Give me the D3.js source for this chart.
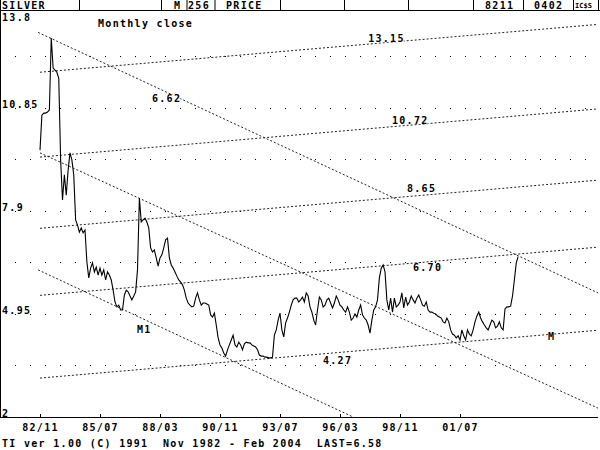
<!DOCTYPE html>
<html><head><meta charset="utf-8">
<script src="https://cdn.jsdelivr.net/npm/d3@7"></script>
<style>
html,body{margin:0;padding:0;background:#fff;}
svg{display:block;}
text{font-family:"DejaVu Sans Mono",monospace;font-weight:bold;font-size:10px;letter-spacing:1.3px;fill:#000;white-space:pre;}
</style></head><body>
<svg id="c" width="600" height="450"></svg>
<script>
// ---------------- DATA ----------------
// Monthly close of silver, Nov 1982 .. Feb 2004 (256 months)
const prices = [
 9.63,10.63,10.69,10.69,10.72,10.78,12.84,11.98,11.92,11.86,
 11.69,9.35,8.20,8.92,8.34,9.06,9.55,9.35,8.92,7.63,
 7.48,7.28,7.40,7.26,7.34,6.43,5.97,6.25,6.40,6.14,
 6.28,6.05,6.25,6.05,6.20,5.91,6.14,6.05,5.91,5.62,
 5.28,5.14,5.19,5.05,5.05,5.48,5.62,5.57,5.45,5.34,
 5.45,5.57,6.20,8.26,7.57,7.63,7.68,7.57,7.40,6.83,
 6.71,6.77,6.54,6.31,6.54,6.63,6.83,7.06,7.11,6.54,
 6.34,6.25,6.14,6.02,5.91,5.85,5.77,5.62,5.39,5.25,
 5.19,5.14,5.16,5.39,5.54,5.34,5.19,5.25,5.25,5.22,
 5.19,4.91,4.85,4.96,4.62,4.25,4.05,3.96,3.82,3.73,
 3.91,4.05,4.19,4.33,4.05,3.99,4.13,4.05,3.91,4.08,
 4.13,4.11,4.11,4.05,4.02,3.99,3.91,3.76,3.73,3.73,
 3.70,3.70,3.68,3.68,3.70,4.33,4.48,4.76,4.96,4.48,
 4.28,4.68,4.82,4.99,5.19,5.34,5.39,5.39,5.28,5.34,
 5.42,5.28,5.54,5.45,5.14,4.99,4.76,4.62,5.05,5.42,
 5.34,5.14,5.19,5.34,5.39,5.25,5.11,5.25,5.45,5.34,
 5.19,5.14,5.05,4.99,5.14,4.99,4.76,4.82,4.94,4.85,
 5.05,5.19,4.91,4.82,4.76,4.62,4.39,4.76,5.05,5.14,
 5.34,5.97,6.25,6.34,6.14,5.34,5.05,5.39,4.99,5.39,
 5.14,5.19,5.28,5.54,5.11,5.42,5.19,5.28,5.45,5.34,
 5.25,5.39,5.48,5.34,5.19,5.16,5.28,5.05,4.99,4.99,
 4.96,4.94,4.88,4.85,4.82,4.71,4.68,4.82,4.71,4.48,
 4.36,4.33,4.25,4.31,4.19,4.48,4.31,4.19,4.48,4.36,
 4.31,4.48,4.71,4.88,4.99,4.82,4.71,4.62,4.54,4.48,
 4.62,4.76,4.71,4.54,4.59,4.71,4.54,4.48,5.08,5.14,
 5.14,5.16,5.45,5.91,6.40,6.58
];
const xTickIdx = [0,32,64,96,128,160,192,224];
const xTickLabels = ["82/11","85/07","88/03","90/11","93/07","96/03","98/11","01/07"];
const yTickVals = [13.8,10.85,7.9,4.95,2];
const yGridVals = [12.325,10.85,9.375,7.9,6.425,4.95,3.475];
// trend lines: month index / price at both ends
const trendLines = [
 {i0:0, v0:11.86, i1:297.6, v1:13.23},
 {i0:0, v0:9.43,  i1:297.6, v1:10.81},
 {i0:0, v0:7.39,  i1:297.6, v1:8.77},
 {i0:0, v0:5.47,  i1:297.6, v1:6.85},
 {i0:0, v0:3.10,  i1:297.6, v1:4.47},
 {i0:-1, v0:13.00, i1:297.6, v1:5.54},
 {i0:0, v0:9.55,  i1:297.6, v1:2.24},
 {i0:-1, v0:6.20, i1:166.4, v1:2.0}
];
// annotation texts, anchored at (month index, price)
const lineLabels = [
 {t:"13.15", i:175, v:12.72},
 {t:"10.72", i:187.7, v:10.38},
 {t:"8.65",  i:195.7, v:8.43},
 {t:"6.70",  i:198.9, v:6.17},
 {t:"4.27",  i:150.9, v:3.50},
 {t:"6.62",  i:59.7, v:11.01},
 {t:"M1",    i:51.7, v:4.39},
 {t:"M",     i:270.9, v:4.19}
];
const headerCells = [
 {t:"SILVER", x:2}, {t:"M", x:174}, {t:"256", x:188}, {t:"PRICE", x:226},
 {t:"8211", x:485}, {t:"0402", x:534}
];
const headerDividers = [79,161,186.5,214.5,280,344,408,473,523,573,598];
const title = "Monthly close";
const footer = "TI ver 1.00 (C) 1991  Nov 1982 - Feb 2004  LAST=6.58";

(function(){
const svg = d3.select("#c");
const pL = 0, pR = 598, pT = 10, pB = 417;
const x = d3.scaleLinear().domain([0,255]).range([40, 40+255*1.875]);
const y = d3.scaleLinear().domain([2,13.8]).range([416.5, 4.5]);

svg.append("defs").append("clipPath").attr("id","pc")
  .append("rect").attr("x",pL).attr("y",pT).attr("width",pR-pL).attr("height",pB-pT);

// header
const hdr = svg.append("g");
hdr.selectAll("line").data(headerDividers).join("line")
  .attr("x1",d=>d+0.5).attr("x2",d=>d+0.5).attr("y1",0).attr("y2",10)
  .attr("stroke","#000").attr("stroke-width",1);
hdr.selectAll("text").data(headerCells).join("text")
  .attr("x",d=>d.x).attr("y",9).text(d=>d.t);
hdr.append("text").attr("x",575).attr("y",8).style("font-size","7px").style("letter-spacing","0px").text("IC$S");

// frame
svg.append("line").attr("x1",0).attr("x2",600).attr("y1",pT+0.5).attr("y2",pT+0.5).attr("stroke","#000");
svg.append("line").attr("x1",0.5).attr("x2",0.5).attr("y1",0).attr("y2",pB).attr("stroke","#000");
svg.append("line").attr("x1",0).attr("x2",pR).attr("y1",pB+0.5).attr("y2",pB+0.5).attr("stroke","#000");

// grid dots
const gridX = d3.range(-40/3, 296, 8);
const gdots = [];
yGridVals.forEach(v=>gridX.forEach(i=>gdots.push({i,v})));
svg.append("g").selectAll("rect").data(gdots).join("rect")
  .attr("x",d=>Math.round(x(d.i))).attr("y",d=>Math.round(y(d.v)))
  .attr("width",1).attr("height",1).attr("fill","#000");

// trend lines
svg.append("g").attr("clip-path","url(#pc)").selectAll("line").data(trendLines).join("line")
  .attr("x1",d=>x(d.i0)).attr("y1",d=>y(d.v0)).attr("x2",d=>x(d.i1)).attr("y2",d=>y(d.v1))
  .attr("stroke","#222").attr("stroke-width",1).attr("stroke-dasharray","2,2");

// price line
svg.append("path").datum(prices)
  .attr("fill","none").attr("stroke","#000").attr("stroke-width",1.1)
  .attr("d", d3.line().x((d,i)=>x(i)).y(d=>y(d)));

// line labels
const lg = svg.append("g");
lineLabels.forEach(d=>{
  const t = lg.append("text").attr("x",x(d.i)).attr("y",y(d.v)).text(d.t);
  const b = t.node().getBBox();
  lg.insert("rect","text").attr("x",b.x).attr("y",b.y+2).attr("width",b.width-1).attr("height",b.height-4).attr("fill","#fff");
});

// y axis labels
const ya = svg.append("g").call(d3.axisRight(y).tickValues(yTickVals).tickSize(0).tickFormat(d=>String(d)));
ya.select(".domain").remove();
ya.attr("font-family",null).attr("font-size",null);
ya.selectAll("text").attr("x",2).attr("dy",0).attr("text-anchor","start")
  .attr("y",d=>Math.max(21, y(d))-y(d)-0.5);

// x axis
const xa = svg.append("g").attr("transform",`translate(0,${pB})`)
  .call(d3.axisBottom(x).tickValues(xTickIdx).tickFormat((d,i)=>xTickLabels[i]).tickSizeInner(-3).tickSizeOuter(0));
xa.select(".domain").remove();
xa.attr("font-family",null).attr("font-size",null);
xa.selectAll(".tick line").attr("stroke","#000");
xa.selectAll("text").attr("y",14).attr("dy",0);

// title & footer
svg.append("text").attr("x",98).attr("y",27).text(title);
svg.append("text").attr("x",2).attr("y",447).attr("xml:space","preserve").text(footer);
})();
</script>
</body></html>
